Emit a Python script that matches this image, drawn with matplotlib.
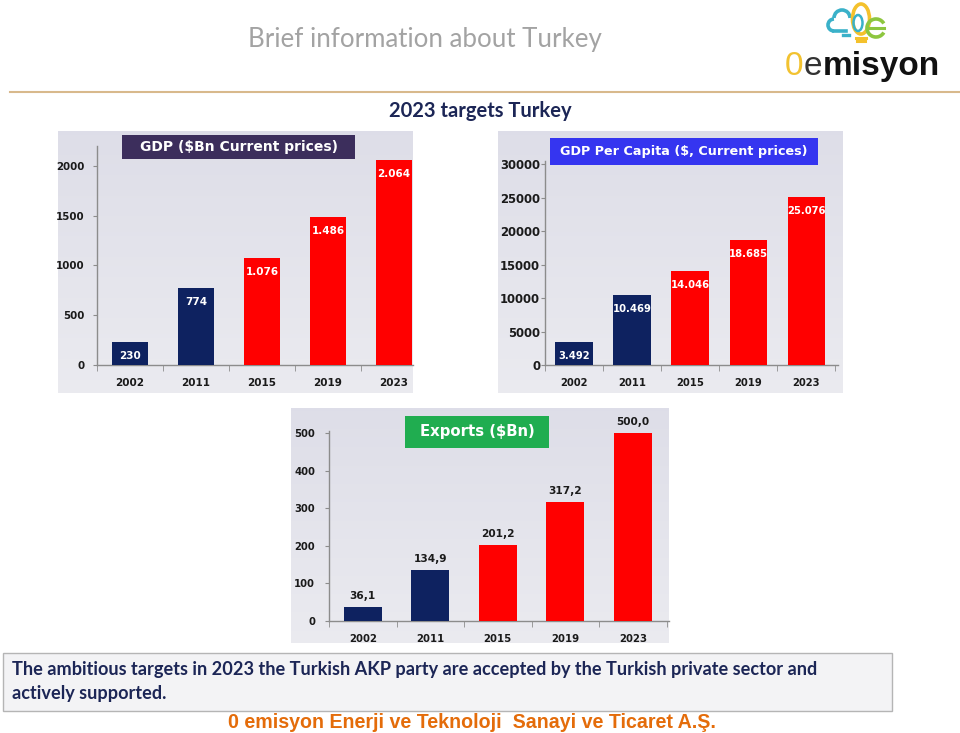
import matplotlib
matplotlib.use('Agg')
import matplotlib.pyplot as plt
from matplotlib.patches import Rectangle, Ellipse, Arc
from matplotlib.lines import Line2D
import numpy as np

# ---------------- data ----------------
years = ['2002', '2011', '2015', '2019', '2023']
gdp = [230, 774, 1076, 1486, 2064]
gdp_labels = ['230', '774', '1.076', '1.486', '2.064']
gdp_pc = [3492, 10469, 14046, 18685, 25076]
gdp_pc_labels = ['3.492', '10.469', '14.046', '18.685', '25.076']
exports = [36.1, 134.9, 201.2, 317.2, 500.0]
exports_labels = ['36,1', '134,9', '201,2', '317,2', '500,0']
gdp_ticks = [0, 500, 1000, 1500, 2000]
gdp_pc_ticks = [0, 5000, 10000, 15000, 20000, 25000, 30000]
exports_ticks = [0, 100, 200, 300, 400, 500]

NAVY = '#0e2260'
RED = '#ff0000'
bar_colors = [NAVY, NAVY, RED, RED, RED]

W, H = 960, 733
fig = plt.figure(figsize=(9.6, 7.33), dpi=100)
fig.patch.set_facecolor('white')


def FX(x):
    return x / W


def FY(y):
    return 1 - y / H


def add_rect(x0, y0, x1, y1, **kw):
    r = Rectangle((FX(x0), FY(y1)), (x1 - x0) / W, (y1 - y0) / H,
                  transform=fig.transFigure, **kw)
    fig.patches.append(r)
    return r


def axes_px(l, t, r, b, **kw):
    return fig.add_axes([FX(l), FY(b), (r - l) / W, (b - t) / H], **kw)


def gradient_bg(l, t, r, b):
    bg = axes_px(l, t, r, b, zorder=-5)
    grad = np.linspace(0, 1, 100).reshape(-1, 1)
    top = np.array([0.87, 0.87, 0.91])
    bot = np.array([0.92, 0.92, 0.94])
    img = top[None, None, :] * (1 - grad[:, :, None]) + bot[None, None, :] * grad[:, :, None]
    bg.imshow(img, aspect='auto', extent=[0, 1, 0, 1], origin='upper')
    bg.set_axis_off()


def panel(bg, box, xmax, ymax, bw, ticks, values, labels, inside, ylpad, yfs, xfs, vfs,
          title, tbox, tcolor, tfs):
    gradient_bg(*bg)
    ax = axes_px(*box)
    ax.set_facecolor('none')
    x = np.arange(len(years))
    ax.bar(x, values, width=bw, color=bar_colors, zorder=3)
    for s in ['top', 'right']:
        ax.spines[s].set_visible(False)
    for s in ['left', 'bottom']:
        ax.spines[s].set_color('#8c8c8c')
        ax.spines[s].set_linewidth(1.0)
    ax.set_yticks(ticks)
    ax.set_yticklabels([str(t) for t in ticks], fontweight='bold',
                       fontsize=yfs, color='#1a1a1a', family='DejaVu Sans')
    ax.set_xticks(x)
    ax.set_xticklabels(years, fontweight='bold', fontsize=xfs,
                       color='#1a1a1a', family='DejaVu Sans')
    ax.set_xticks(np.arange(-0.5, len(years), 1.0), minor=True)
    ax.set_xlim(-0.5, xmax)
    ax.set_ylim(0, ymax)
    ax.tick_params(axis='x', which='major', length=0, pad=9)
    ax.tick_params(axis='x', which='minor', length=4, color='#8c8c8c')
    ax.tick_params(axis='y', which='major', length=3, color='#8c8c8c', pad=ylpad)
    for i, (v, lab) in enumerate(zip(values, labels)):
        if inside:
            ax.annotate(lab, (i, v), xytext=(0, -14), textcoords='offset pixels',
                        ha='center', va='center', color='white',
                        fontweight='bold', fontsize=vfs, zorder=4)
        else:
            ax.annotate(lab, (i, v), xytext=(0, 6), textcoords='offset pixels',
                        ha='center', va='bottom', color='#1a1a1a',
                        fontweight='bold', fontsize=vfs, zorder=4,
                        annotation_clip=False)
    add_rect(*tbox, facecolor=tcolor, edgecolor='none', zorder=5)
    fig.text(FX((tbox[0] + tbox[2]) / 2), FY((tbox[1] + tbox[3]) / 2), title,
             ha='center', va='center', color='white', fontweight='bold',
             fontsize=tfs, family='DejaVu Sans', zorder=6)
    return ax


panel((58, 131, 413, 393), (97, 146, 413, 365), 4.288, 2201, 0.56,
      gdp_ticks, gdp, gdp_labels, True, 6, 7.4, 7.5, 7.5,
      'GDP ($Bn Current prices)', (122, 135, 355, 159), '#3c2e5c', 10)

panel((498, 131, 843, 393), (545, 161, 838, 365), 4.55, 30448, 0.64,
      gdp_pc_ticks, gdp_pc, gdp_pc_labels, True, 0.5, 8.4, 7.2, 7.2,
      'GDP Per Capita ($, Current prices)', (550, 138, 818, 165), '#3535f0', 9.2)

panel((291, 408, 669, 643), (329, 431, 669, 621), 4.537, 505, 0.56,
      exports_ticks, exports, exports_labels, False, 7, 7.2, 7.3, 7.6,
      'Exports ($Bn)', (405, 416, 549, 448), '#20ad50', 10.7)

# ---------------- slide text ----------------
texts_to_fit = []

t = fig.text(FX(425), FY(40), 'Brief information about Turkey', ha='center',
             va='center', color='#a3a3a3', family=['Lato', 'DejaVu Sans'], fontsize=18)
texts_to_fit.append((t, 351))

fig.add_artist(Line2D([FX(10), FX(960)], [FY(92), FY(92)], transform=fig.transFigure,
                      color='#d8b98c', lw=1.5))

t = fig.text(FX(480), FY(111), '2023 targets Turkey', ha='center', va='center',
             color='#1c2656', fontweight='bold', family=['Lato', 'DejaVu Sans'], fontsize=13)
texts_to_fit.append((t, 182))

add_rect(3, 653, 892, 711, facecolor='#f3f3f5', edgecolor='#b5b5b5', lw=1.0)
c1 = fig.text(FX(12), FY(670), 'The ambitious targets in 2023 the Turkish AKP party are '
              'accepted by the Turkish private sector and', ha='left', va='center',
              color='#1c2656', fontweight='bold', family=['Lato', 'DejaVu Sans'], fontsize=13)
texts_to_fit.append((c1, 805))
c2 = fig.text(FX(12), FY(693), 'actively supported.', ha='left', va='center',
              color='#1c2656', fontweight='bold', family=['Lato', 'DejaVu Sans'], fontsize=13)

t = fig.text(FX(472), FY(722), '0 emisyon Enerji ve Teknoloji  Sanayi ve Ticaret A.Ş.',
             ha='center', va='center', color='#e46c0a', fontweight='bold',
             family=['Liberation Sans Narrow', 'Liberation Sans', 'DejaVu Sans'], fontsize=13)
texts_to_fit.append((t, 486))

fig.canvas.draw()
r = fig.canvas.get_renderer()
for tt, target in texts_to_fit:
    w = tt.get_window_extent(r).width
    tt.set_fontsize(tt.get_fontsize() * target / w)
c2.set_fontsize(c1.get_fontsize())

# ---------------- logo ----------------
lx = 785
parts = [('0', '#f2c230', 'normal'), ('e', '#333333', 'normal'), ('misyon', '#111111', 'bold')]
fig.canvas.draw()
r = fig.canvas.get_renderer()
for s, col, wt in parts:
    tt = fig.text(FX(lx), FY(75), s, ha='left', va='baseline', color=col,
                  fontweight=wt, family=['Liberation Sans', 'DejaVu Sans'], fontsize=24)
    fig.canvas.draw()
    lx = tt.get_window_extent(r).x1 + 0.5

la = axes_px(820, 2, 900, 48)
la.set_xlim(820, 900)
la.set_ylim(48, 2)
la.set_axis_off()
teal, yel, grn = '#3ab1c9', '#f4c12c', '#8dc63f'
la.add_patch(Arc((834, 25), 12, 12, theta1=90, theta2=270, color=teal, lw=2.6))
la.add_patch(Arc((842, 18), 16, 16, theta1=180, theta2=360, color=teal, lw=2.6))
la.plot([834, 846], [31, 31], color=teal, lw=2.6)
la.plot([843, 849], [35, 35], color=teal, lw=2.4)
la.add_patch(Ellipse((861, 19), 17, 30, fill=False, color=yel, lw=2.6))
la.add_patch(Ellipse((858, 23), 9, 16, fill=False, color=teal, lw=1.8))
la.plot([856, 866], [38, 38], color=yel, lw=2.2)
la.plot([857, 865], [41, 41], color=yel, lw=2.2)
la.add_patch(Arc((876, 28), 18, 18, theta1=30, theta2=330, color=grn, lw=2.6))
la.plot([868, 884], [28, 28], color=grn, lw=2.2)

fig.savefig('out.png', dpi=100, facecolor='white')
